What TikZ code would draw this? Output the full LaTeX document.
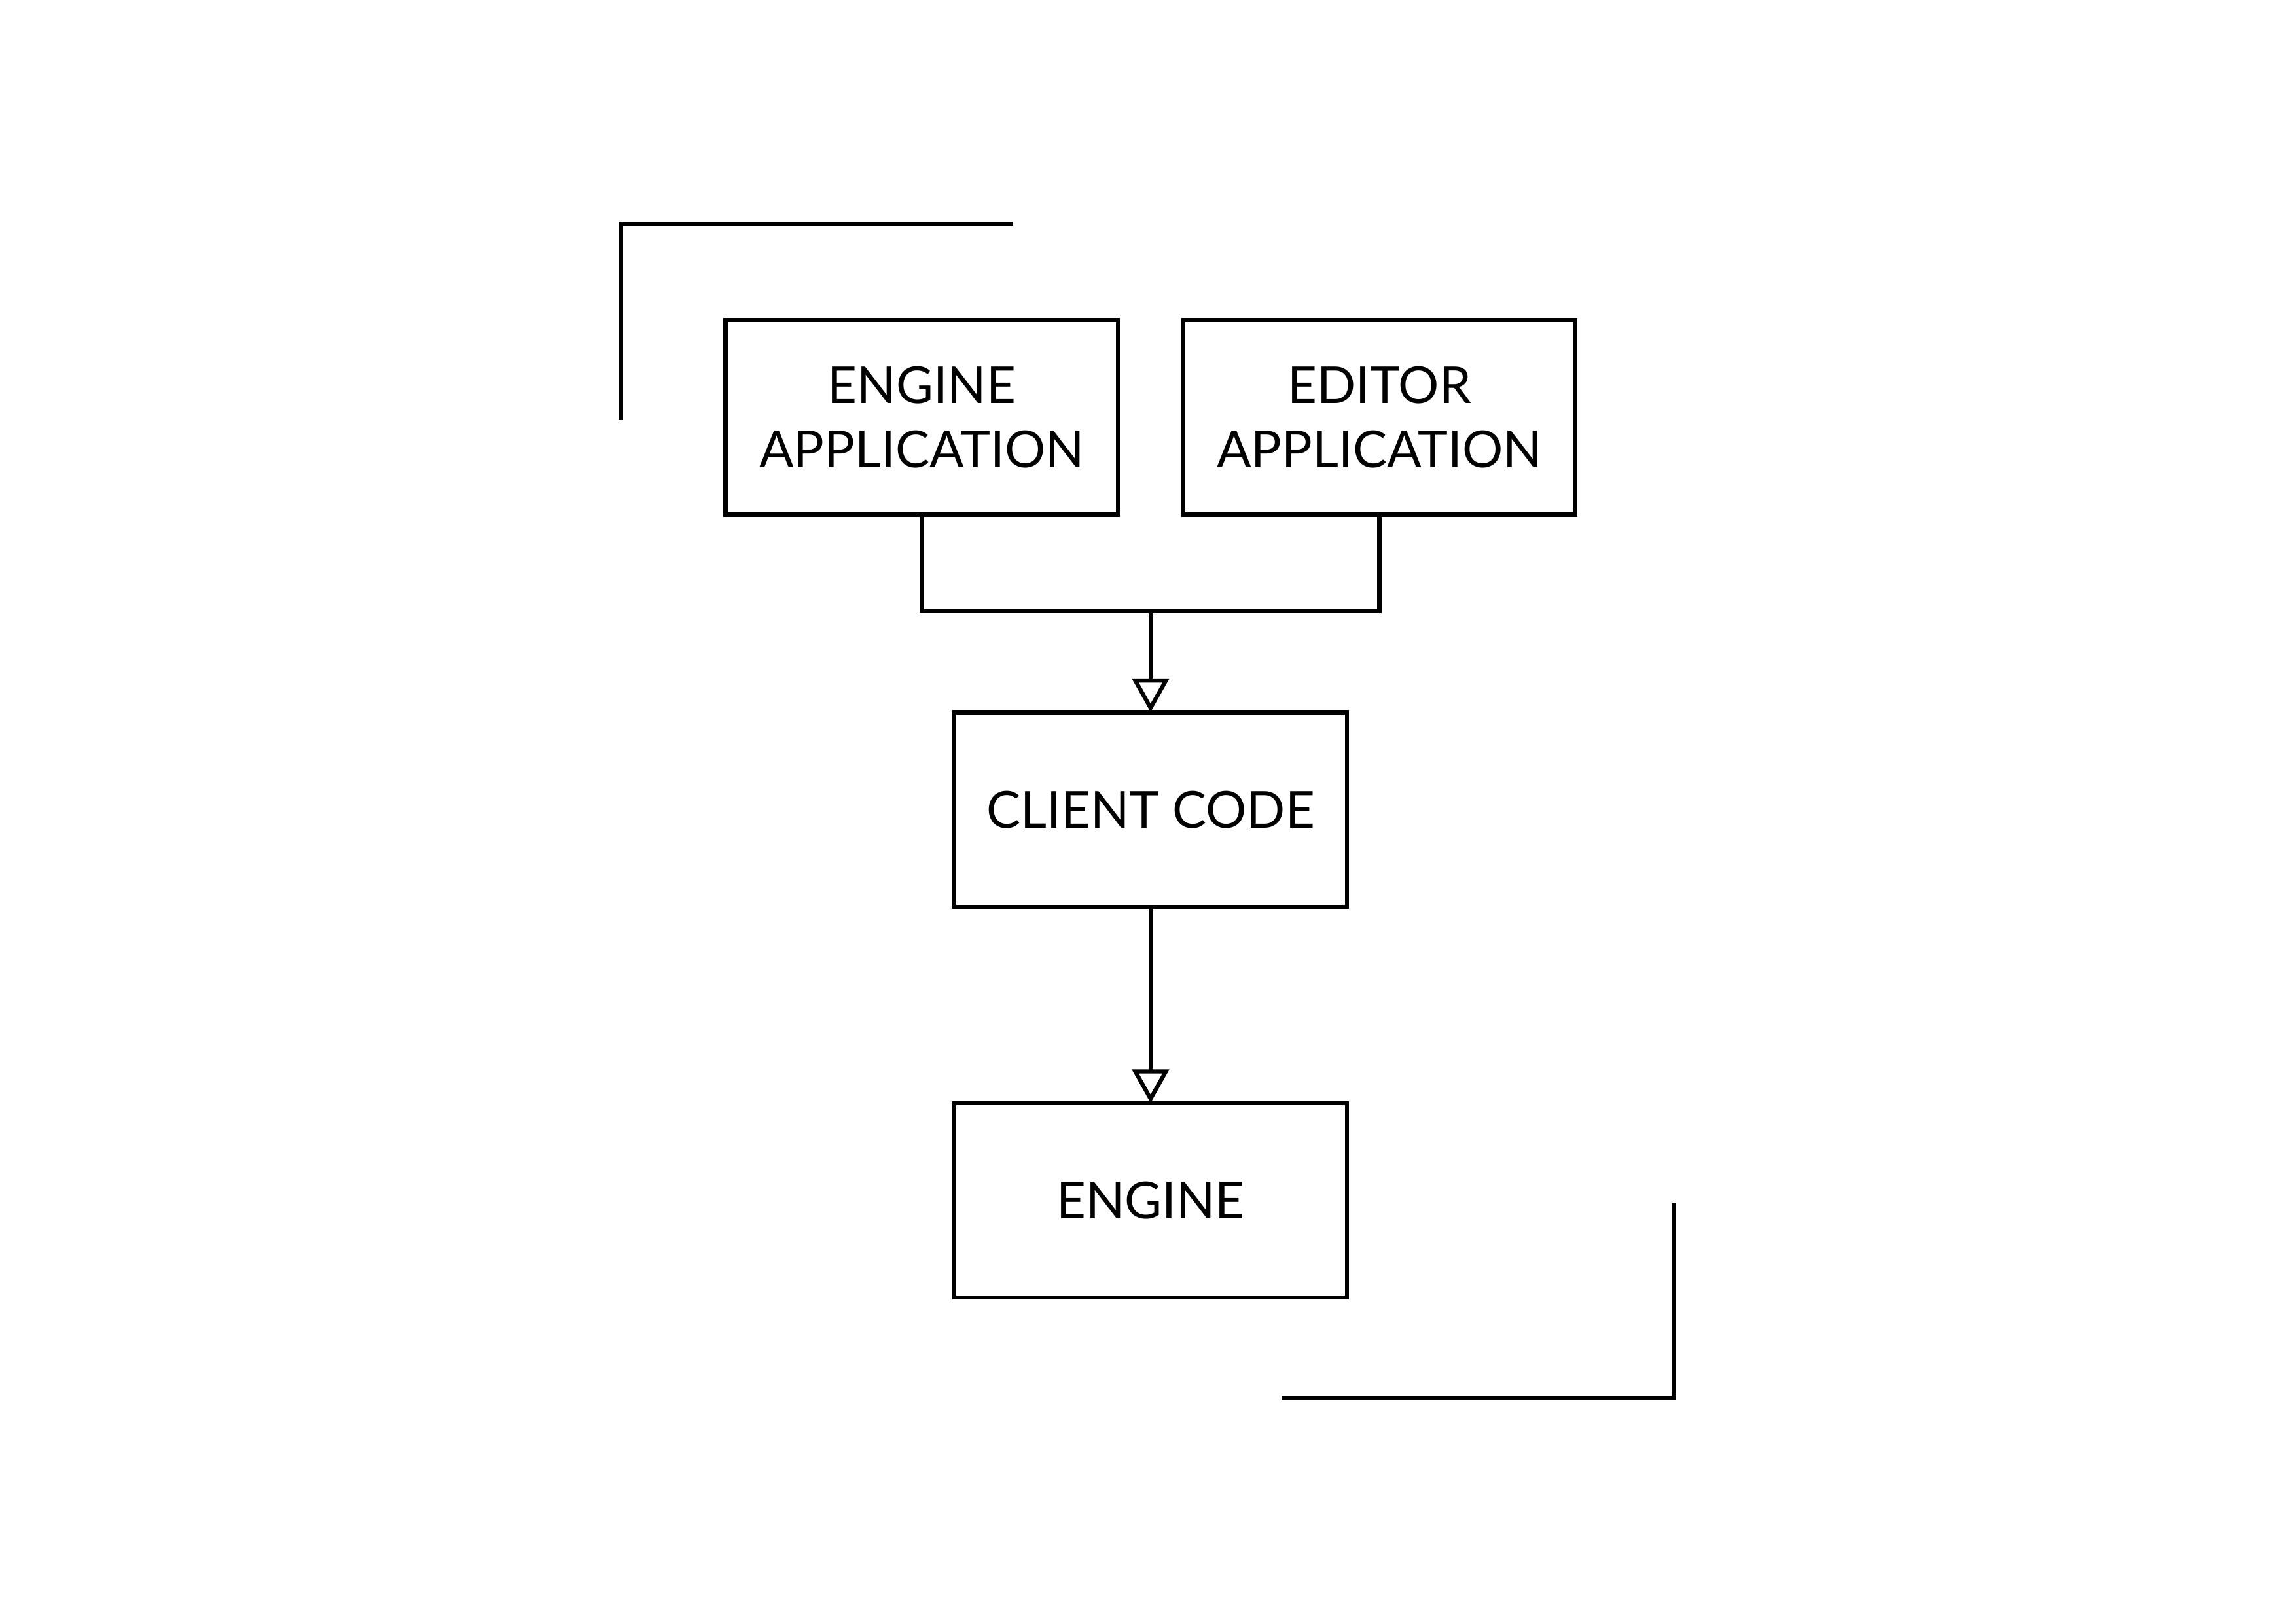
\documentclass[tikz,border=0pt]{standalone}
\usepackage{fontspec}
\setmainfont{Lato}
\usetikzlibrary{arrows.meta,positioning,calc}

\begin{document}
\begin{tikzpicture}[>={Triangle[open,length=2.3mm,width=2.5mm]},line width=0.8pt,
		node distance=1.34cm,
		block node/.style={rectangle,draw,minimum width=2.68cm,minimum height=1.33cm,inner sep=0pt,outer sep=0pt,align=center,font=\fontsize{9.9}{12.5}\selectfont}]
	\useasboundingbox (0,0) rectangle (15.68,-11.09);
	% Nodes
	\node[block node] (EA) at (6.295,-2.85) {ENGINE\\APPLICATION};
	\node[block node] (ED) [right=0.445cm of EA] {EDITOR\\APPLICATION};
	\coordinate (join) at ($(EA.south)!0.5!(ED.south)+(0,-0.66)$);
	\node[block node] (CC) [below=0.69cm of join] {CLIENT CODE};
	\node[block node] (EN) [below=of CC] {ENGINE};

	% Edges
	\draw (EA.south) |- (join) -| (ED.south);
	\draw[->] (join) -- (CC.north);
	\draw[->] (CC) -- (EN);

	% Corners
	\draw (6.92,-1.53) -- (4.24,-1.53) -- (4.24,-2.87);
	\draw (11.43,-8.22) -- (11.43,-9.55) -- (8.75,-9.55);
\end{tikzpicture}
\end{document}
